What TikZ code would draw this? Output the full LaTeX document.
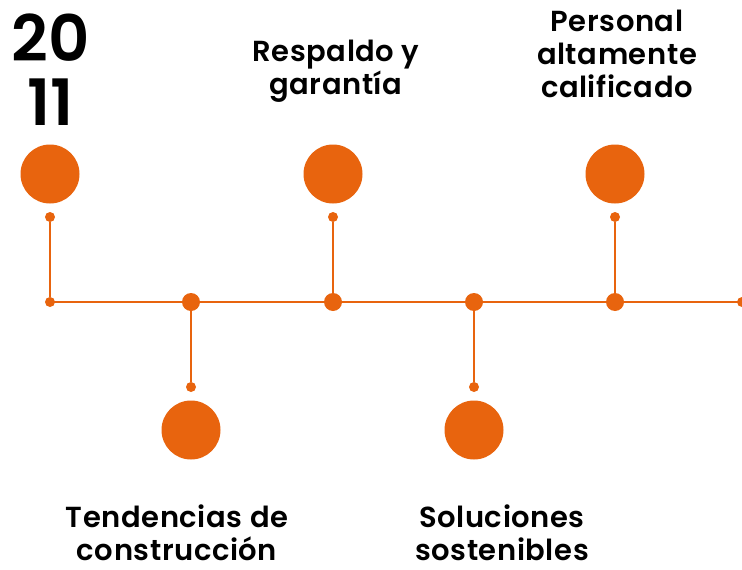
\documentclass[tikz,border=0pt]{standalone}
\usepackage{fontspec}
\setmainfont{Poppins}[BoldFont={Poppins SemiBold}]
\newfontfamily\rotulofont{Poppins SemiBold}[LetterSpace=2]
\definecolor{naranja}{RGB}{232,100,14}

\begin{document}
\begin{tikzpicture}[x=1pt, y=-1pt,
    hito/.style={circle, fill=naranja, minimum size=59pt, inner sep=0pt},
    punta/.style={circle, fill=naranja, minimum size=10pt, inner sep=0pt},
    union/.style={circle, fill=naranja, minimum size=18pt, inner sep=0pt},
    linea/.style={draw=naranja, line width=2.7pt},
    rotulo/.style={align=center, inner sep=0pt, font=\fontsize{29}{33}\rotulofont}]
    \useasboundingbox (0,0) rectangle (742,570);

    \node[align=center, inner sep=0pt, font=\fontsize{64}{64}\selectfont\bfseries] (anio) at (51, 70) {20\\11};
    \node[rotulo] (respaldo) at (336, 71) {Respaldo y\\garantía};
    \node[rotulo] (personal) at (617, 54) {Personal\\altamente\\calificado};
    \node[rotulo] (tendencias) at (177, 533) {Tendencias de\\construcción};
    \node[rotulo] (soluciones) at (502, 533) {Soluciones\\sostenibles};

    \node[hito] (h1) at (50, 174) {};
    \node[hito] (h2) at (191, 430) {};
    \node[hito] (h3) at (333, 174) {};
    \node[hito] (h4) at (474, 430) {};
    \node[hito] (h5) at (615, 174) {};

    \node[punta] (p1) at (50, 217) {};
    \node[punta] (p2) at (191, 387) {};
    \node[punta] (p3) at (333, 217) {};
    \node[punta] (p4) at (474, 387) {};
    \node[punta] (p5) at (615, 217) {};

    \node[punta] (u1) at (50, 302) {};
    \node[union] (u2) at (191, 302) {};
    \node[union] (u3) at (333, 302) {};
    \node[union] (u4) at (474, 302) {};
    \node[union] (u5) at (615, 302) {};
    \node[punta] (fin) at (742, 302) {};

    \draw[linea] (u1.center) -- (fin.center);
    \draw[linea] (p1) -- (u1);
    \draw[linea] (u2) -- (p2);
    \draw[linea] (p3) -- (u3);
    \draw[linea] (u4) -- (p4);
    \draw[linea] (p5) -- (u5);
\end{tikzpicture}
\end{document}
